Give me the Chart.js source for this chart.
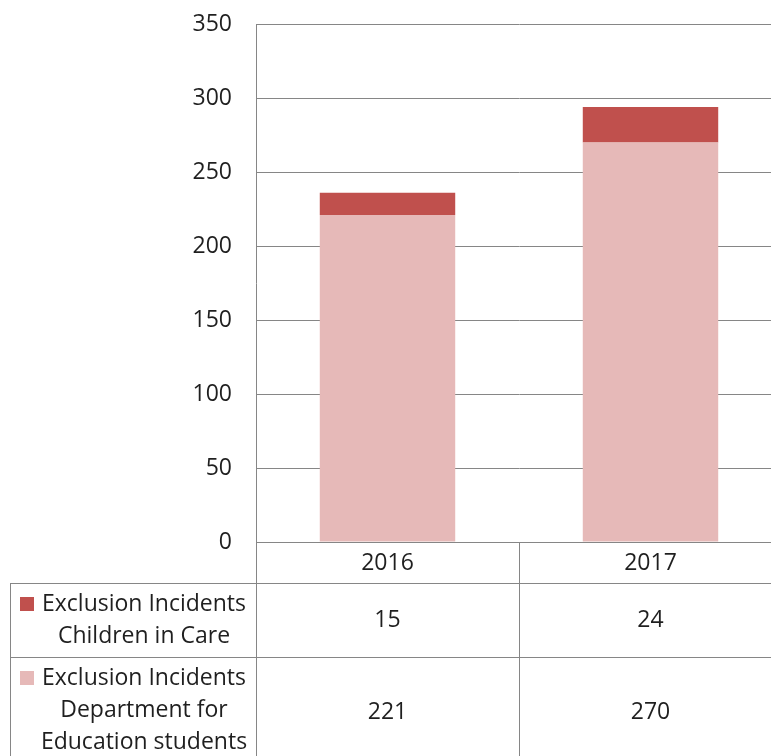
<!DOCTYPE html>
<html>
<head>
<meta charset="utf-8">
<script src="https://cdn.jsdelivr.net/npm/chart.js@4.4.1/dist/chart.umd.min.js"></script>
<style>
  html, body { margin: 0; padding: 0; background: #fff; }
  #wrap { width: 771px; height: 756px; overflow: hidden; position: relative; }
  canvas { display: block; }
</style>
</head>
<body>
<div id="wrap">
  <canvas id="exclusionChart" width="800" height="756"></canvas>
</div>
<script>
// Exclusion incidents per year
const years = ['2016', '2017'];
const careIncidents = [15, 24];
const dfeIncidents = [221, 270];
const careLabel = ['Exclusion Incidents', 'Children in Care'];
const dfeLabel = ['Exclusion Incidents', 'Department for', 'Education students'];

const DARK_RED = '#C0504D';
const LIGHT_RED = '#E6B9B8';
const GRID = '#868686';
const TEXT = '#1f1f1f';
const FONT = '"Open Sans", Lato, sans-serif';

// Data table under the plot, drawn from the x scale columns
const dataTable = {
  id: 'dataTable',
  afterDraw(chart) {
    const ctx = chart.ctx;
    const area = chart.chartArea;
    const x = chart.scales.x;
    const mid = (x.getPixelForValue(0) + x.getPixelForValue(1)) / 2;
    const colEdges = [area.left, mid, area.right];
    const tableLeft = 10;
    const headTop = area.bottom;
    const row1Top = headTop + 41;
    const row2Top = row1Top + 74;
    const row2Bottom = row2Top + 110;
    const bottom = chart.height;

    ctx.save();
    ctx.strokeStyle = GRID;
    ctx.lineWidth = 1;
    ctx.beginPath();
    // vertical lines
    [area.left, mid].forEach(px => {
      ctx.moveTo(Math.round(px) + 0.5, headTop);
      ctx.lineTo(Math.round(px) + 0.5, bottom);
    });
    ctx.moveTo(tableLeft + 0.5, row1Top);
    ctx.lineTo(tableLeft + 0.5, bottom);
    // horizontal lines
    [row1Top, row2Top].forEach(py => {
      ctx.moveTo(tableLeft, Math.round(py) + 0.5);
      ctx.lineTo(area.right, Math.round(py) + 0.5);
    });
    ctx.stroke();

    ctx.fillStyle = TEXT;
    ctx.font = '23px ' + FONT;
    ctx.textAlign = 'center';
    ctx.textBaseline = 'middle';

    const rows = [
      { top: row1Top, bottom: row2Top, values: careIncidents },
      { top: row2Top, bottom: row2Bottom, values: dfeIncidents }
    ];

    // year header + values
    for (let i = 0; i < years.length; i++) {
      const cx = (colEdges[i] + colEdges[i + 1]) / 2;
      ctx.fillText(years[i], cx, (headTop + row1Top) / 2 + 1);
      rows.forEach(r => {
        ctx.fillText(String(r.values[i]), cx, (r.top + r.bottom) / 2);
      });
    }

    // series labels with colour keys
    const labelX = 144;
    const lineGap = 32;
    ctx.fillText(careLabel[0], labelX, row1Top + 21);
    ctx.fillText(careLabel[1], labelX, row1Top + 21 + lineGap);
    ctx.fillStyle = DARK_RED;
    ctx.fillRect(20, row1Top + 14, 14, 14);

    ctx.fillStyle = TEXT;
    dfeLabel.forEach((line, k) => {
      ctx.fillText(line, labelX, row2Top + 21 + k * lineGap);
    });
    ctx.fillStyle = LIGHT_RED;
    ctx.fillRect(20, row2Top + 14, 14, 14);
    ctx.restore();
  }
};

new Chart('exclusionChart', {
  type: 'bar',
  data: {
    labels: years,
    datasets: [
      {
        label: dfeLabel.join(' '),
        data: dfeIncidents,
        backgroundColor: LIGHT_RED,
        categoryPercentage: 1,
        barPercentage: 0.515
      },
      {
        label: careLabel.join(' '),
        data: careIncidents,
        backgroundColor: DARK_RED,
        categoryPercentage: 1,
        barPercentage: 0.515
      }
    ]
  },
  options: {
    responsive: false,
    animation: false,
    layout: { padding: { top: 24, right: 18, bottom: 214, left: 0 } },
    plugins: {
      legend: { display: false },
      tooltip: { enabled: false }
    },
    scales: {
      x: {
        stacked: true,
        display: false
      },
      y: {
        stacked: true,
        min: 0,
        max: 350,
        ticks: {
          stepSize: 50,
          padding: 24,
          color: TEXT,
          font: { family: FONT, size: 23 }
        },
        grid: { color: GRID, lineWidth: 1, drawTicks: false },
        border: { display: true, color: GRID, width: 1 },
        afterFit(scale) {
          scale.width = 256;
          // keep the tick padding from pushing the plot down
          scale.paddingTop = 0;
          scale.paddingBottom = 0;
        }
      }
    }
  },
  plugins: [dataTable]
});
</script>
</body>
</html>
